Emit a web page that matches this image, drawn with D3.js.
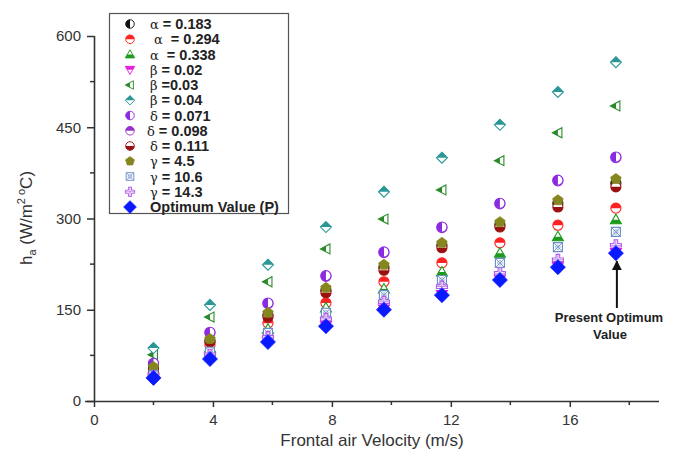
<!DOCTYPE html>
<html>
<head>
<meta charset="utf-8">
<script src="https://cdn.jsdelivr.net/npm/d3@7"></script>
<style>
  body { margin: 0; background: #fff; }
  text { font-family: Arial, "Liberation Sans", sans-serif; }
  .leg text { white-space: pre; }
</style>
</head>
<body>
<div id="chart"></div>
<script>
// frontal air velocity (m/s)
const velocity = [2, 3.9, 5.85, 7.8, 9.75, 11.7, 13.65, 15.6, 17.55];

// heat transfer coefficient h_a for each parameter set
const alpha0183 = [54, 99, 141, 182, 220, 256, 290, 325, 358];
const alpha0294 = [48, 92, 128, 161, 196, 227, 260, 289, 317];
const alpha0338 = [45, 87, 118, 153, 184, 212, 243, 270, 298];
const beta002 = [39, 70, 98, 124, 151, 175, 200, 221, 244];
const beta003 = [76, 138, 196, 250, 299, 347, 395, 441, 485];
const beta004 = [87, 158, 224, 286, 344, 400, 454, 508, 557];
const delta0071 = [62, 113, 161, 206, 245, 286, 325, 363, 401];
const delta0098 = [61, 112, 160, 205, 244, 285, 324, 362, 400];
const delta0111 = [51, 97, 138, 178, 215, 252, 286, 319, 352];
const gamma45 = [56, 102, 145, 186, 224, 260, 294, 330, 365];
const gamma106 = [43, 81, 112, 145, 174, 199, 227, 253, 278];
const gamma143 = [41, 76, 105, 135, 163, 188, 210, 232, 256];
const optimum = [38, 69, 97, 123, 150, 174, 199, 220, 243];

const seriesNames = ["α = 0.183", " α  = 0.294", "α  = 0.338", "β = 0.02", "β =0.03", "β = 0.04",
  "δ = 0.071", "δ = 0.098", "δ = 0.111", "γ = 4.5", "γ = 10.6", "γ = 14.3", "Optimum Value (P)"];
const seriesValues = [alpha0183, alpha0294, alpha0338, beta002, beta003, beta004,
  delta0071, delta0098, delta0111, gamma45, gamma106, gamma143, optimum];

const yTicks = [0, 150, 300, 450, 600];
const xTicks = [0, 4, 8, 12, 16];

// marker look for each series (same order as names)
const markers = [
  {shape: "circle", half: "left", color: "#111"},
  {shape: "circle", half: "top", color: "#f22"},
  {shape: "triUp", half: "bottom", color: "#1c9a1c"},
  {shape: "triDown", half: "top", color: "#e020e0"},
  {shape: "triLeft", half: "left", color: "#2a8a2a"},
  {shape: "diamond", half: "top", color: "#2a9696"},
  {shape: "circle", half: "left", color: "#8a2be2"},
  {shape: "circle", half: "top", color: "#9932cc"},
  {shape: "circle", half: "bottom", color: "#9a1010"},
  {shape: "pentagon", half: "full", color: "#86861e"},
  {shape: "squareX", half: "none", color: "#6a8cc8"},
  {shape: "plus", half: "none", color: "#b060e8"},
  {shape: "bigDiamond", half: "full", color: "#0a1aff"}
];
// hidden ones go first so the others sit on top
const drawOrder = [0, 3, 7, 1, 2, 4, 5, 6, 8, 9, 10, 11, 12];

const W = 677, H = 454;
const svg = d3.select("#chart").append("svg").attr("width", W).attr("height", H);

const x = d3.scaleLinear().domain([0, 19]).range([94, 659]);
const y = d3.scaleLinear().domain([0, 600]).range([401, 36]);

const defs = svg.append("defs");
const clips = {left: [-10, -10, 10, 20], right: [0, -10, 10, 20], top: [-10, -10, 20, 10], bottom: [-10, 0, 20, 10]};
Object.keys(clips).forEach(k => {
  const c = clips[k];
  defs.append("clipPath").attr("id", "clip-" + k).attr("clipPathUnits", "userSpaceOnUse")
    .append("rect").attr("x", c[0]).attr("y", c[1]).attr("width", c[2]).attr("height", c[3]);
});

function shapePath(shape) {
  if (shape == "triUp") return "M0,-5.5L5.5,4L-5.5,4Z";
  if (shape == "triDown") return "M0,5.5L5.5,-4L-5.5,-4Z";
  if (shape == "triLeft") return "M-5.5,0L4,-5L4,5Z";
  if (shape == "diamond") return "M0,-5.5L5.5,0L0,5.5L-5.5,0Z";
  if (shape == "bigDiamond") return "M0,-7.5L7.5,0L0,7.5L-7.5,0Z";
  if (shape == "pentagon") {
    const pts = d3.range(5).map(i => {
      const a = -Math.PI / 2 + i * 2 * Math.PI / 5;
      return [5.5 * Math.cos(a), 5.5 * Math.sin(a)];
    });
    return "M" + pts.join("L") + "Z";
  }
  if (shape == "plus") return "M-1.8,-5.5H1.8V-1.8H5.5V1.8H1.8V5.5H-1.8V1.8H-5.5V-1.8H-1.8Z";
  if (shape == "squareX") return "M-4.5,-4.5H4.5V4.5H-4.5Z";
  return d3.symbol(d3.symbolCircle, 80)();
}

function drawMarker(g, m) {
  const d = shapePath(m.shape);
  if (m.half == "full") {
    g.append("path").attr("d", d).attr("fill", m.color).attr("stroke", m.color).attr("stroke-width", 0.8);
    return;
  }
  g.append("path").attr("d", d).attr("fill", "#fff").attr("stroke", m.color).attr("stroke-width", 1.1);
  if (m.half != "none") {
    g.append("path").attr("d", d).attr("fill", m.color).attr("clip-path", `url(#clip-${m.half})`);
  }
  if (m.shape == "squareX") {
    g.append("path").attr("d", "M-4.5,-4.5L4.5,4.5M4.5,-4.5L-4.5,4.5")
      .attr("stroke", m.color).attr("stroke-width", 0.9);
    g.append("circle").attr("r", 2.2).attr("fill", "none").attr("stroke", m.color).attr("stroke-width", 0.7);
  }
  if (m.shape == "plus") {
    g.append("path").attr("d", "M0,-5.5V5.5M-5.5,0H5.5").attr("stroke", m.color).attr("stroke-width", 0.8);
  }
}

// axes
const axisColor = "#333";
const yAxis = d3.axisLeft(y).tickValues(yTicks).tickSize(7).tickPadding(6);
const xAxis = d3.axisBottom(x).tickValues(xTicks).tickSize(6).tickPadding(7);

const gy = svg.append("g").attr("transform", "translate(94,0)").call(yAxis);
const gx = svg.append("g").attr("transform", "translate(0,401)").call(xAxis);
[gx, gy].forEach(g => {
  g.select(".domain").attr("stroke", axisColor).attr("stroke-width", 1.6);
  g.selectAll(".tick line").attr("stroke", axisColor).attr("stroke-width", 1.5);
  g.selectAll(".tick text").attr("fill", "#333").style("font-size", "15px").style("font-family", "Arial, sans-serif");
});
gx.select(".domain").attr("d", "M85,0.5H659");
gy.select(".domain").attr("d", "M0.5,36V401");

// minor ticks
svg.append("g").selectAll("line").data([75, 225, 375, 525]).join("line")
  .attr("x1", 94).attr("x2", 90).attr("y1", d => y(d)).attr("y2", d => y(d))
  .attr("stroke", axisColor).attr("stroke-width", 1.5);
svg.append("g").selectAll("line").data([2, 6, 10, 14, 18]).join("line")
  .attr("x1", d => x(d)).attr("x2", d => x(d)).attr("y1", 401).attr("y2", 405)
  .attr("stroke", axisColor).attr("stroke-width", 1.5);

// axis titles
const yl = svg.append("text").attr("transform", "translate(32,218) rotate(-90)")
  .attr("text-anchor", "middle").attr("fill", "#333").style("font-size", "17px");
yl.append("tspan").text("h");
yl.append("tspan").attr("dy", 4).style("font-size", "11px").text("a");
yl.append("tspan").attr("dy", -4).text(" (W/m");
yl.append("tspan").attr("dy", -7).style("font-size", "11px").text("2 o");
yl.append("tspan").attr("dy", 7).text("C)");

svg.append("text").attr("x", 372).attr("y", 446).attr("text-anchor", "middle")
  .attr("fill", "#333").style("font-size", "17px").text("Frontal air Velocity (m/s)");

// data points
const plot = svg.append("g");
drawOrder.forEach(si => {
  seriesValues[si].forEach((v, i) => {
    const g = plot.append("g").attr("transform", `translate(${x(velocity[i])},${y(v)})`);
    drawMarker(g, markers[si]);
  });
});

// legend
const leg = svg.append("g").attr("class", "leg");
leg.append("rect").attr("x", 109.5).attr("y", 13.5).attr("width", 179).attr("height", 200)
  .attr("fill", "#fff").attr("stroke", "#555").attr("stroke-width", 1.2);
seriesNames.forEach((name, i) => {
  const ry = 24 + i * 15.25;
  const g = leg.append("g").attr("transform", `translate(130,${ry}) scale(0.85)`);
  drawMarker(g, markers[i]);
  const t = leg.append("text").attr("x", i == 7 ? 147 : 150).attr("y", ry + 5)
    .attr("fill", "#222").style("font-size", "14.5px").style("font-weight", "bold");
  const greek = name.match(/[αβγδ]/);
  if (greek) {
    const parts = name.split(greek[0]);
    t.append("tspan").text(parts[0]);
    t.append("tspan").style("font-family", "'DejaVu Serif', serif").style("font-weight", "normal")
      .style("font-size", "13px").text(greek[0]);
    t.append("tspan").text(parts[1]);
  } else {
    t.text(name);
  }
});

// annotation for the optimum
const ax = x(velocity[8]) + 1;
defs.append("marker").attr("id", "arrow").attr("viewBox", "0 0 10 10").attr("refX", 9).attr("refY", 5)
  .attr("markerWidth", 5).attr("markerHeight", 6).attr("orient", "auto")
  .append("path").attr("d", "M0,0L10,5L0,10Z").attr("fill", "#111");
svg.append("line").attr("x1", ax).attr("x2", ax).attr("y1", 308).attr("y2", y(optimum[8]) + 8)
  .attr("stroke", "#111").attr("stroke-width", 2).attr("marker-end", "url(#arrow)");
svg.append("text").attr("x", 609).attr("y", 322).attr("text-anchor", "middle")
  .attr("fill", "#222").style("font-size", "13px").style("font-weight", "bold").text("Present Optimum");
svg.append("text").attr("x", 610).attr("y", 339).attr("text-anchor", "middle")
  .attr("fill", "#222").style("font-size", "13px").style("font-weight", "bold").text("Value");
</script>
</body>
</html>
